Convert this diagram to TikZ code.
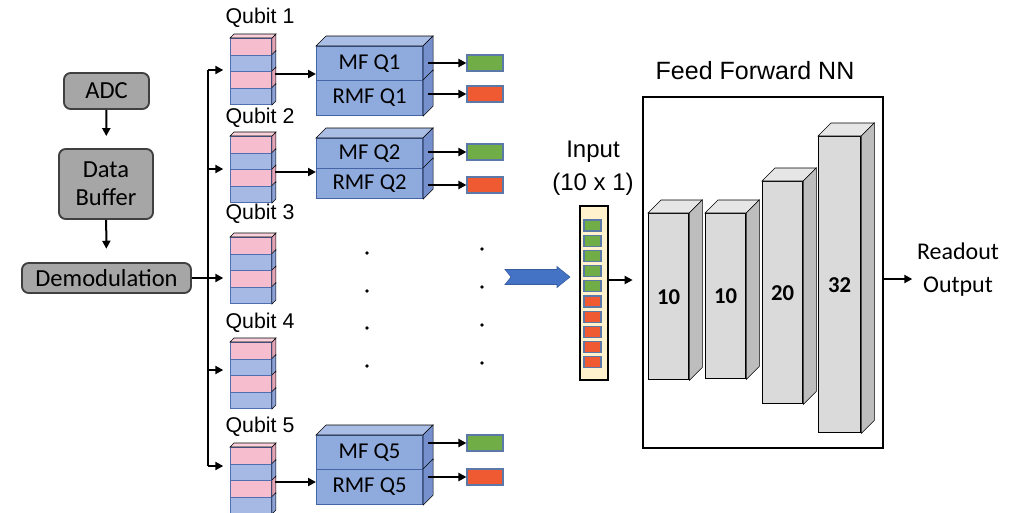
\documentclass[tikz,border=0pt]{standalone}
\usepackage{fontspec}
\setmainfont{Carlito}
\newfontfamily\arialfont{Liberation Sans}
\usetikzlibrary{arrows.meta,calc}

\definecolor{boxgray}{HTML}{A6A6A6}
\definecolor{boxedge}{HTML}{404040}
\definecolor{qpink}{HTML}{F6BDCE}
\definecolor{qpinkside}{HTML}{E3A4B8}
\definecolor{qpinktop}{HTML}{F9D0DC}
\definecolor{qblue}{HTML}{A6B9E4}
\definecolor{qblueside}{HTML}{8CA2D6}
\definecolor{qedge}{HTML}{4F6FB0}
\definecolor{mffront}{HTML}{8FAADC}
\definecolor{mftop}{HTML}{A9BDE5}
\definecolor{mfside}{HTML}{7590CC}
\definecolor{mfedge}{HTML}{4564A6}
\definecolor{okgreen}{HTML}{70AD47}
\definecolor{errred}{HTML}{F05A32}
\definecolor{celledge}{HTML}{5A78A8}
\definecolor{inputbg}{HTML}{FFF2CC}
\definecolor{fatblue}{HTML}{4472C4}
\definecolor{barfront}{HTML}{DADADA}
\definecolor{bartop}{HTML}{E6E6E6}
\definecolor{barside}{HTML}{BDBDBD}

\newcommand\fsz[2]{\fontsize{#1}{#2}\selectfont}
% top and right faces of a box drawn in oblique view
\newcommand\cubetop[3]{%
  \filldraw[fill=#3] (#1.north west) -- ++(#2,-#2) -- ($(#1.north east)+(#2,-#2)$) -- (#1.north east) -- cycle;}
\newcommand\cubeside[3]{%
  \filldraw[fill=#3] (#1.north east) -- ++(#2,-#2) -- ($(#1.south east)+(#2,-#2)$) -- (#1.south east) -- cycle;}

\begin{document}
\begin{tikzpicture}[x=0.75pt,y=-0.75pt,
  sized/.style 2 args={minimum width={(#1)*0.75pt}, minimum height={(#2)*0.75pt}},
  graybox/.style={draw=boxedge, fill=boxgray, line width=1.4pt, rounded corners=5pt, inner sep=0pt},
  arr/.style={-{Triangle[length=6pt,width=6pt]}, line width=1.5pt},
  bus/.style={line width=1.5pt},
  layer/.style={draw=qedge, line width=0.7pt, inner sep=0pt, sized={41}{16.5}},
  mfbox/.style={draw=mfedge, fill=mffront, line width=0.8pt, inner sep=0pt, font=\fsz{17pt}{20pt}},
  flag/.style={draw=celledge, line width=0.8pt, inner sep=0pt, sized={36}{16}},
  cell/.style={draw=celledge, line width=0.8pt, inner sep=0pt, sized={17}{11}},
  bar/.style={draw, fill=barfront, line width=1pt, inner sep=0pt, anchor=north west, font=\bfseries\fsz{17pt}{20pt}},
  qlabel/.style={font=\arialfont\fsz{16pt}{19pt}}
]
\useasboundingbox (0,0) rectangle (1020,512);

% ---------------- acquisition chain ----------------
\node[graybox, sized={85}{36}, font=\fsz{18.4pt}{21pt}] (adc) at (106.5,91) {ADC};
\node[graybox, sized={94}{70}, align=center, font=\fsz{18.4pt}{21pt}] (buf) at (106,184) {Data\\Buffer};
\node[graybox, sized={169}{30}, font=\fsz{18.4pt}{21pt}] (demod) at (106.5,278) {Demodulation};
\draw[arr, shorten >=9pt] (adc) -- (buf);
\draw[arr, shorten >=10pt] (buf) -- (demod);

% ---------------- per-qubit sample stacks ----------------
\newcommand\qstack[2]{%
  \foreach \i/\c/\sc in {1/qpink/qpinkside,2/qblue/qblueside,3/qpink/qpinkside,4/qblue/qblueside}{
    \node[layer, fill=\c, anchor=north west] (#1-\i) at (230,{#2+(\i-1)*16.5}) {};
    \cubeside{#1-\i}{4}{\sc}
  }
  \cubetop{#1-1}{4}{qpinktop}}
\qstack{q1}{38}
\qstack{q2}{136}
\qstack{q3}{237}
\qstack{q4}{342}
\qstack{q5}{447}

\node[qlabel] (lq1) at (260,18) {Qubit 1};
\node[qlabel] (lq2) at (260,118) {Qubit 2};
\node[qlabel] (lq3) at (260,214) {Qubit 3};
\node[qlabel] (lq4) at (260,323) {Qubit 4};
\node[qlabel] (lq5) at (260,427) {Qubit 5};

% distribution bus
\coordinate (b1) at (208,70);
\coordinate (b2) at (208,169);
\coordinate (b3) at (208,278);
\coordinate (b4) at (208,370);
\coordinate (b5) at (208,466);
\draw[bus] (b1) -- (b5);
\draw[arr, shorten >=5pt] (b1) -- (b1 -| q1-1.west);
\draw[arr, shorten >=5pt] (b2) -- (b2 -| q2-1.west);
\draw[arr, shorten >=5pt] (demod.east) -- (demod.east -| q3-1.west);
\draw[arr, shorten >=5pt] (b4) -- (b4 -| q4-1.west);
\draw[arr, shorten >=5pt] (b5) -- (b5 -| q5-1.west);

% ---------------- matched filters ----------------
\newcommand\mfpair[5]{%
  \node[mfbox, anchor=north west, sized={106}{#3-#2}] (#1a) at (316,#2) {MF Q#5};
  \node[mfbox, anchor=north west, sized={106}{#4-#3}] (#1b) at (316,#3) {RMF Q#5};
  \cubetop{#1a}{10}{mftop}
  \cubeside{#1a}{10}{mfside}
  \cubeside{#1b}{10}{mfside}}
\mfpair{mf1}{46}{80}{115}{1}
\mfpair{mf2}{138}{168}{198}{2}
\mfpair{mf5}{435}{469}{504}{5}

\draw[arr] ($(q1-3.north east)+(3,3)$) coordinate (s1) -- (s1 -| mf1a.west);
\draw[arr] ($(q2-3.north east)+(3,3)$) coordinate (s2) -- (s2 -| mf2a.west);
\draw[arr] ($(q5-3.north east)+(3,2)$) coordinate (s5) -- (s5 -| mf5a.west);

% filter outputs
\node[flag, fill=okgreen] (g1) at (485,63) {};
\node[flag, fill=errred]  (r1) at (485,94) {};
\node[flag, fill=okgreen] (g2) at (485,152) {};
\node[flag, fill=errred]  (r2) at (485,185) {};
\node[flag, fill=okgreen] (g5) at (485,443) {};
\node[flag, fill=errred]  (r5) at (485,477) {};
\draw[arr, shorten <=4pt] (g1.west -| mf1a.east) -- (g1.west);
\draw[arr, shorten <=4pt] (r1.west -| mf1b.east) -- (r1.west);
\draw[arr, shorten <=4pt] (g2.west -| mf2a.east) -- (g2.west);
\draw[arr, shorten <=4pt] (r2.west -| mf2b.east) -- (r2.west);
\draw[arr, shorten <=4pt] (g5.west -| mf5a.east) -- (g5.west);
\draw[arr, shorten <=4pt] (r5.west -| mf5b.east) -- (r5.west);

% ellipsis for the remaining qubits
\foreach \y in {253,291,328,366} \fill (367,\y) circle (1.4pt);
\foreach \y in {249,287,325,363} \fill (482,\y) circle (1.4pt);

% ---------------- feature vector ----------------
\fill[fatblue, draw=fatblue!80!black, line width=0.4pt]
  (505,269.5) -- (557,269.5) -- (557,266.5) -- (570,277) -- (557,287.5) -- (557,284.5)
  -- (505,284.5) -- (511,277) -- cycle;

\node[font=\arialfont\fsz{18pt}{24.75pt}, align=center] (inlbl) at (593,168.5) {Input\\(10 x 1)};
\node[draw, fill=inputbg, line width=1.2pt, inner sep=0pt, sized={28}{174}, anchor=north west] (inp) at (579,205) {};
\foreach \i in {0,...,4}
  \node[cell, fill=okgreen] (c\i) at (592.5,{225.5+15.2*\i}) {};
\foreach \i in {5,...,9}
  \node[cell, fill=errred] (c\i) at (592.5,{225.5+15.2*\i}) {};

% ---------------- feed-forward network ----------------
\node[font=\arialfont\fsz{18.75pt}{22pt}] (nntitle) at (755,71) {Feed Forward NN};
\node[draw, line width=1.2pt, inner sep=0pt, sized={240}{351}, anchor=north west] (ffnn) at (642,96) {};

\node[bar, sized={40}{166}] (l1) at (648,213) {10};
\node[bar, sized={40}{165}] (l2) at (705,213) {10};
\node[bar, sized={40}{222}] (l3) at (762,181) {20};
\node[bar, sized={42}{296}] (l4) at (818,136) {32};
\foreach \n in {l1,l2,l3,l4}{
  \cubetop{\n}{13}{bartop}
  \cubeside{\n}{13}{barside}
}

\coordinate (ia) at (607,280);
\draw[arr, shorten >=7pt] (ia) -- (ia -| ffnn.west);

\node[font=\fsz{18pt}{24.75pt}, align=center] (out) at (958,270) {Readout\\Output};
\coordinate (oa) at (882,279);
\draw[arr] (oa) -- (oa -| out.west);
\end{tikzpicture}
\end{document}
